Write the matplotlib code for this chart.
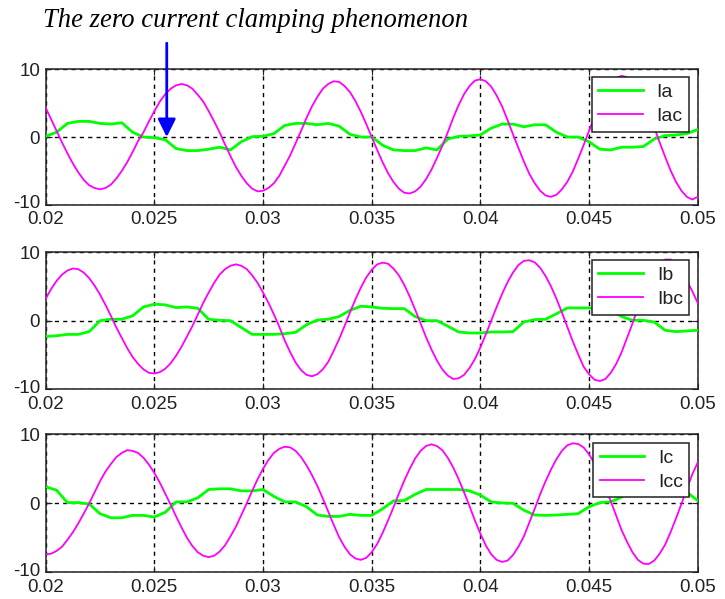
import numpy as np
import matplotlib
matplotlib.use("Agg")
import matplotlib.pyplot as plt
from matplotlib.transforms import ScaledTranslation

# ---------------- data ----------------
t_fine = np.linspace(0.02, 0.05, 121)     # 0.00025 s steps
t_coarse = np.linspace(0.02, 0.05, 61)    # 0.0005 s steps

Iac = [4.3, 2.6, 0.9, -0.8, -2.4, -3.9, -5.2, -6.3, -7.1, -7.5, -7.7, -7.5, -7.0, -6.1, -5.0,
       -3.7, -2.2, -0.6, 0.7, 2.3, 3.8, 5.2, 6.3, 7.1, 7.6, 7.8, 7.6, 7.1, 6.2, 5.2, 3.8, 2.3,
       0.7, -1.1, -2.8, -4.4, -5.7, -6.8, -7.6, -8.0, -7.9, -7.5, -6.8, -5.7, -4.2, -2.7, -0.9,
       0.9, 2.8, 4.5, 5.9, 7.1, 7.8, 8.2, 8.1, 7.5, 6.6, 5.3, 3.7, 1.9, 0.0, -1.9, -3.7, -5.3,
       -6.6, -7.6, -8.2, -8.3, -8.0, -7.3, -6.2, -4.8, -3.1, -1.3, 0.7, 2.8, 4.7, 6.3, 7.5, 8.3,
       8.5, 8.2, 7.4, 6.1, 4.5, 2.5, 0.4, -1.6, -3.6, -5.4, -6.8, -7.9, -8.6, -8.8, -8.5, -7.7,
       -6.6, -5.1, -3.2, -1.2, 0.9, 3.0, 4.9, 6.6, 7.9, 8.7, 9.0, 8.8, 8.1, 6.9, 5.3, 3.5, 1.4,
       -0.8, -2.9, -4.9, -6.6, -7.9, -8.8, -9.2, -8.8]

Ia = [0.1, 0.7, 2.0, 2.3, 2.3, 2.0, 1.9, 2.1, 0.7, 0.0, -0.1, -0.4, -1.7, -2.0, -2.0, -1.8,
      -1.5, -1.9, -0.7, 0.05, 0.1, 0.5, 1.7, 2.0, 2.0, 1.8, 2.0, 1.6, 0.4, 0.0, 0.0, -1.2,
      -1.9, -2.0, -2.0, -1.6, -1.9, -0.3, 0.1, 0.15, 0.3, 1.3, 1.9, 1.9, 1.5, 1.8, 1.8, 0.7,
      0.0, 0.0, -0.7, -1.8, -1.9, -1.5, -1.5, -1.4, -0.3, 0.2, 0.3, 0.5, 1.1]

Ibc = [3.2, 4.6, 5.8, 6.7, 7.3, 7.6, 7.5, 7.0, 6.2, 5.1, 3.8, 2.3, 0.7, -1.0, -2.5, -4.0,
       -5.3, -6.3, -7.1, -7.6, -7.7, -7.5, -7.0, -6.2, -5.1, -3.8, -2.3, -0.8, 0.9, 2.6, 4.1,
       5.5, 6.7, 7.5, 8.0, 8.2, 8.0, 7.5, 6.6, 5.5, 4.1, 2.6, 0.9, -0.9, -2.9, -4.6, -6.1,
       -7.2, -7.9, -8.1, -7.8, -7.1, -6.0, -4.4, -2.7, -0.8, 1.2, 3.1, 4.8, 6.3, 7.4, 8.2,
       8.45, 8.3, 7.6, 6.6, 5.2, 3.5, 1.6, -0.4, -2.4, -4.2, -5.8, -7.1, -8.0, -8.5, -8.4,
       -7.9, -6.9, -5.6, -3.9, -2.0, 0.0, 2.0, 3.9, 5.6, 7.0, 8.1, 8.7, 8.8, 8.5, 7.7, 6.5,
       5.0, 3.2, 1.2, -0.9, -3.0, -4.9, -6.7, -7.8, -8.6, -8.8, -8.5, -7.6, -6.3, -4.6, -2.5,
       -0.4, 1.9, 4.0, 5.8, 7.3, 8.4, 8.9, 8.9, 8.4, 7.3, 5.8, 4.3, 2.6]

Ib = [-2.3, -2.2, -2.0, -2.0, -1.6, 0.0, 0.2, 0.2, 0.7, 2.0, 2.4, 2.3, 1.9, 2.0, 1.8, 0.2,
      0.05, 0.0, -1.0, -2.0, -2.0, -2.0, -1.9, -1.7, -0.6, 0.1, 0.2, 0.6, 1.5, 2.1, 2.0, 1.8,
      1.75, 1.75, 0.6, 0.0, 0.0, -0.8, -1.65, -1.8, -1.8, -1.65, -1.65, -1.6, -0.2, 0.15, 0.2,
      1.0, 1.85, 1.85, 1.85, 1.8, 1.6, 0.6, 0.05, 0.05, -0.2, -1.4, -1.6, -1.5, -1.4]

Icc = [-7.4, -7.3, -6.9, -6.3, -5.3, -4.2, -2.9, -1.5, 0.0, 1.6, 3.2, 4.6, 5.7, 6.7, 7.3,
       7.7, 7.6, 7.3, 6.6, 5.6, 4.4, 3.0, 1.4, -0.2, -1.9, -3.5, -5.0, -6.2, -7.1, -7.6, -7.8,
       -7.6, -7.0, -6.1, -4.8, -3.4, -1.7, 0.0, 1.8, 3.5, 5.0, 6.3, 7.3, 7.9, 8.2, 8.1, 7.6,
       6.7, 5.5, 4.1, 2.5, 0.7, -1.2, -3.1, -4.9, -6.3, -7.4, -8.0, -8.2, -7.9, -7.1, -5.9,
       -4.3, -2.5, -0.6, 1.4, 3.3, 5.0, 6.5, 7.6, 8.3, 8.55, 8.3, 7.7, 6.6, 5.2, 3.5, 1.6,
       -0.4, -2.5, -4.4, -6.1, -7.4, -8.2, -8.5, -8.3, -7.5, -6.3, -4.8, -2.8, -0.8, 1.3, 3.2,
       4.9, 6.4, 7.6, 8.4, 8.7, 8.6, 8.1, 7.1, 5.8, 4.2, 2.3, 0.3, -1.8, -3.9, -5.6, -7.1,
       -8.2, -8.75, -8.8, -8.3, -7.3, -6.0, -4.2, -2.2, -0.1, 2.1, 4.2, 5.9]

Ic = [2.4, 1.9, 0.1, 0.1, -0.1, -1.5, -2.1, -2.1, -1.75, -1.75, -2.0, -1.3, 0.2, 0.2, 0.8,
      2.0, 2.1, 2.1, 1.8, 1.8, 2.0, 1.0, 0.2, 0.2, -0.5, -1.7, -1.9, -1.9, -1.6, -1.75, -1.75,
      -0.8, 0.35, 0.4, 1.3, 2.0, 2.0, 2.0, 2.0, 1.8, 1.2, 0.2, 0.05, 0.0, -1.0, -1.7, -1.75,
      -1.7, -1.6, -1.5, -0.5, 0.1, 0.2, 0.9, 1.8, 2.0, 2.0, 1.9, 1.9, 1.6, 0.4]

panels = [("Ia", Ia, "Iac", Iac), ("Ib", Ib, "Ibc", Ibc), ("Ic", Ic, "Icc", Icc)]

x_ticks = [0.02, 0.025, 0.03, 0.035, 0.04, 0.045, 0.05]
x_ticklabels = ["0.02", "0.025", "0.03", "0.035", "0.04", "0.045", "0.05"]
y_ticks = [-10, 0, 10]
y_ticklabels = ["-10", "0", "10"]

title_text = "The zero current clamping phenomenon"
arrow_x = 0.02557

# ---------------- figure ----------------
plt.rcParams['font.family'] = ['Liberation Sans', 'DejaVu Sans']
W, H = 725, 599
fig = plt.figure(figsize=(W / 100, H / 100), dpi=100)
fig.patch.set_facecolor("white")

left = 45.7 / W
width = 652 / W
boxes = [(69, 205), (252, 389.3), (434.3, 572.3)]
green = "#00FF00"
magenta = "#FF00FF"
txtcol = "#222222"

axes = []
for (top, bot), (gl, gv, ml, mv) in zip(boxes, panels):
    ax = fig.add_axes([left, 1 - bot / H, width, (bot - top) / H])
    ax.plot(t_coarse, gv, color=green, lw=2.0, label=gl, zorder=3)
    ax.plot(t_fine, mv, color=magenta, lw=1.3, label=ml, zorder=3)
    ax.set_xlim(0.02, 0.05)
    ax.set_ylim(-10, 10)
    ax.set_xticks(x_ticks)
    ax.set_xticklabels(x_ticklabels)
    ax.set_yticks(y_ticks)
    ax.set_yticklabels(y_ticklabels)
    ax.tick_params(direction='in', length=4, width=0.8, labelsize=13.5,
                   colors=txtcol, top=True, right=True)
    ax.tick_params(axis='x', pad=4.5)
    ax.tick_params(axis='y', pad=4)
    # lift the bottom "-10" label slightly, as in the reference
    lab = ax.get_yticklabels()[0]
    lab.set_transform(lab.get_transform() + ScaledTranslation(0, 3 / 100, fig.dpi_scale_trans))
    ax.grid(True, color='black', linestyle=(0, (3, 3)), linewidth=1.0, zorder=1)
    for s in ax.spines.values():
        s.set_color('#222222')
        s.set_linewidth(1.1)
    leg = ax.legend(loc='upper right', bbox_to_anchor=(0.987, 0.94),
                    borderaxespad=0, fancybox=False, framealpha=1,
                    edgecolor='#222222', fontsize=14, handlelength=2.3,
                    handletextpad=0.7, labelspacing=0.33, borderpad=0.33)
    leg.get_frame().set_linewidth(1.1)
    for txt in leg.get_texts():
        txt.set_color(txtcol)
    leg.set_zorder(5)
    axes.append(ax)

fig.text(43 / W, 1 - 27 / H, title_text, family='Liberation Serif',
         style='italic', fontsize=19.2, ha='left', va='baseline', color='black')

axes[0].annotate('', xy=(arrow_x, 0), xytext=(arrow_x, 13.8),
                 arrowprops=dict(arrowstyle='-|>,head_length=1.08,head_width=0.54',
                                 color='#0000FF', lw=2.0, shrinkA=0, shrinkB=0,
                                 mutation_scale=10),
                 annotation_clip=False, zorder=10)

fig.savefig("out.png", dpi=100)
